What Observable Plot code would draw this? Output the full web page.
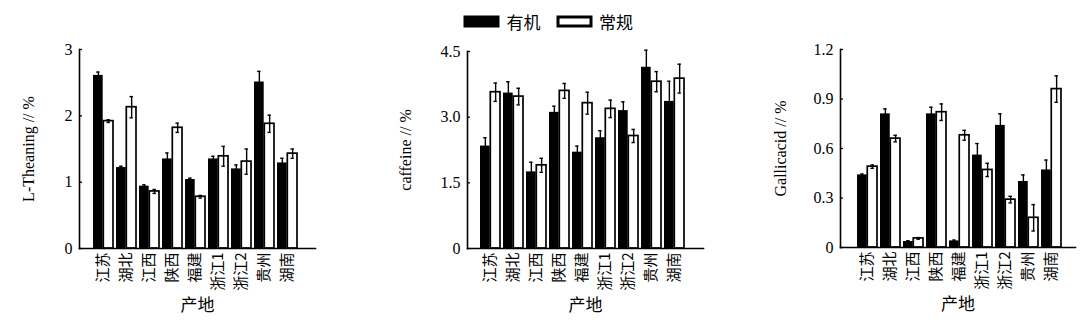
<!DOCTYPE html>
<html><head><meta charset="utf-8">
<script src="https://cdn.jsdelivr.net/npm/d3@7"></script>
<script src="https://cdn.jsdelivr.net/npm/@observablehq/plot@0.6"></script>
<style>
body{margin:0;background:#fff;}
#wrap{position:relative;width:1080px;height:323px;overflow:hidden;background:#fff;}
.panel{position:absolute;top:0;}
#legend{position:absolute;top:5px;left:465px;}
#legend svg rect{stroke:#000;stroke-width:3px;}
</style></head><body><div id="wrap"></div>
<script>
// categories and series
const origins = ["江苏","湖北","江西","陕西","福建","浙江1","浙江2","贵州","湖南"];
const series = ["有机","常规"];

// L-Theaning (%)
const theanineOrganic    = [2.61,1.22,0.94,1.35,1.04,1.35,1.20,2.51,1.29];
const theanineOrganicErr = [0.05,0.02,0.02,0.09,0.02,0.04,0.06,0.16,0.07];
const theanineConv       = [1.92,2.13,0.86,1.82,0.78,1.39,1.31,1.88,1.43];
const theanineConvErr    = [0.02,0.16,0.03,0.07,0.02,0.15,0.19,0.13,0.07];

// caffeine (%)
const caffeineOrganic    = [2.34,3.55,1.75,3.11,2.20,2.53,3.15,4.14,3.36];
const caffeineOrganicErr = [0.19,0.26,0.22,0.14,0.14,0.16,0.20,0.39,0.46];
const caffeineConv       = [3.57,3.47,1.90,3.60,3.32,3.19,2.57,3.81,3.88];
const caffeineConvErr    = [0.21,0.19,0.16,0.17,0.25,0.20,0.15,0.23,0.33];

// Gallic acid (%)
const gallicOrganic    = [0.44,0.81,0.036,0.81,0.04,0.56,0.74,0.40,0.47];
const gallicOrganicErr = [0.005,0.03,0.005,0.04,0.005,0.07,0.07,0.04,0.06];
const gallicConv       = [0.49,0.66,0.055,0.82,0.68,0.47,0.29,0.18,0.96];
const gallicConvErr    = [0.01,0.02,0.005,0.05,0.03,0.04,0.02,0.08,0.08];

// tick labels
const theanineTicks = [0,1,2,3];
const theanineTickLabels = ["0","1","2","3"];
const caffeineTicks = [0,1.5,3,4.5];
const caffeineTickLabels = ["0","1.5","3.0","4.5"];
const gallicTicks = [0,0.3,0.6,0.9,1.2];
const gallicTickLabels = ["0","0.3","0.6","0.9","1.2"];

const xTitle = "产地";
const SERIF = "'Liberation Serif','DejaVu Serif',serif";
const CJK = "'Noto Sans CJK SC','Noto Sans',sans-serif";

const wrap = document.getElementById("wrap");

function panel(o) {
  const H = 323;
  const ml = o.axisX0 - o.left, mr = o.left + o.width - o.axisX1;
  const mt = o.yTop, mb = H - o.yZero;
  const pi = 0.12, po = 0.6;
  const plotW = o.axisX1 - o.axisX0;
  const step = plotW / (origins.length - pi + 2 * po);
  const bw = step * (1 - pi);
  const half = bw / 2;
  const cap = 4;
  const org = origins.map((c, i) => ({origin: c, series: series[0], value: o.organic[i], err: o.organicErr[i]}));
  const con = origins.map((c, i) => ({origin: c, series: series[1], value: o.conv[i], err: o.convErr[i]}));
  const labelMap = new Map(o.ticks.map((t, i) => [t, o.tickLabels[i]]));
  const capL = {insetLeft: bw / 4 - cap / 2, insetRight: 3 * bw / 4 - cap / 2};
  const capR = {insetLeft: 3 * bw / 4 - cap / 2, insetRight: bw / 4 - cap / 2};
  const chart = Plot.plot({
    width: o.width, height: H,
    marginLeft: ml, marginRight: mr, marginTop: mt, marginBottom: mb,
    style: {fontFamily: SERIF, background: "transparent", color: "#000"},
    x: {domain: origins, paddingInner: pi, paddingOuter: po, align: o.align},
    y: {domain: [0, o.max]},
    marks: [
      Plot.barY(org, {x: "origin", y: "value", fill: "#000", insetRight: half}),
      Plot.barY(con, {x: "origin", y: "value", fill: "#fff", stroke: "#000", strokeWidth: 1.7, insetLeft: half}),
      Plot.ruleX(org, {x: "origin", y1: d => d.value - d.err, y2: d => d.value + d.err, dx: -bw / 4, stroke: "#000", strokeWidth: 1.4}),
      Plot.ruleX(con, {x: "origin", y1: d => d.value - d.err, y2: d => d.value + d.err, dx: bw / 4, stroke: "#000", strokeWidth: 1.4}),
      Plot.tickY(org, {x: "origin", y: d => d.value + d.err, ...capL, stroke: "#000", strokeWidth: 1.4}),
      Plot.tickY(con, {x: "origin", y: d => d.value + d.err, ...capR, stroke: "#000", strokeWidth: 1.4}),
      Plot.tickY(con, {x: "origin", y: d => d.value - d.err, ...capR, stroke: "#000", strokeWidth: 1.4}),
      Plot.tickY(o.ticks, {y: d => d, insetRight: plotW - 3, stroke: "#000", strokeWidth: 1.3}),
      Plot.frame({anchor: "left", stroke: "#000", strokeWidth: 1.6}),
      Plot.frame({anchor: "bottom", stroke: "#000", strokeWidth: 1.6}),
      Plot.axisY({ticks: o.ticks, tickFormat: d => labelMap.get(d), tickSize: 0, tickPadding: 7,
        fontSize: 16, fontFamily: SERIF, label: o.label, labelAnchor: "center", labelOffset: o.labelOffset, labelArrow: "none"}),
      Plot.axisX({tickSize: 0, tickPadding: 4, tickRotate: -90, fontSize: 15, fontFamily: CJK, label: null}),
      Plot.text([xTitle], {text: d => d, frameAnchor: "bottom", dy: 62, lineAnchor: "bottom",
        fontSize: 17, fontFamily: CJK, fill: "#000"})
    ]
  });
  chart.classList.add("panel");
  chart.style.left = o.left + "px";
  wrap.appendChild(chart);
}

panel({left: 0, width: 350, axisX0: 79, axisX1: 315, yTop: 49, yZero: 248, max: 3, align: 0.45,
  ticks: theanineTicks, tickLabels: theanineTickLabels, label: "L-Theaning // %", labelOffset: 57,
  organic: theanineOrganic, organicErr: theanineOrganicErr, conv: theanineConv, convErr: theanineConvErr});
panel({left: 360, width: 360, axisX0: 467, axisX1: 703, yTop: 51, yZero: 248, max: 4.5, align: 0.42,
  ticks: caffeineTicks, tickLabels: caffeineTickLabels, label: "caffeine // %", labelOffset: 68,
  organic: caffeineOrganic, organicErr: caffeineOrganicErr, conv: caffeineConv, convErr: caffeineConvErr});
panel({left: 730, width: 350, axisX0: 840, axisX1: 1075, yTop: 49, yZero: 247, max: 1.2, align: 0.55,
  ticks: gallicTicks, tickLabels: gallicTickLabels, label: "Gallicacid // %", labelOffset: 66,
  organic: gallicOrganic, organicErr: gallicOrganicErr, conv: gallicConv, convErr: gallicConvErr});

const legend = Plot.legend({
  color: {type: "ordinal", domain: series, range: ["#000", "#fff"]},
  swatchWidth: 33, swatchHeight: 9,
  style: {fontFamily: CJK, fontSize: "17px", color: "#000"}
});
legend.id = "legend";
wrap.appendChild(legend);
</script></body></html>
